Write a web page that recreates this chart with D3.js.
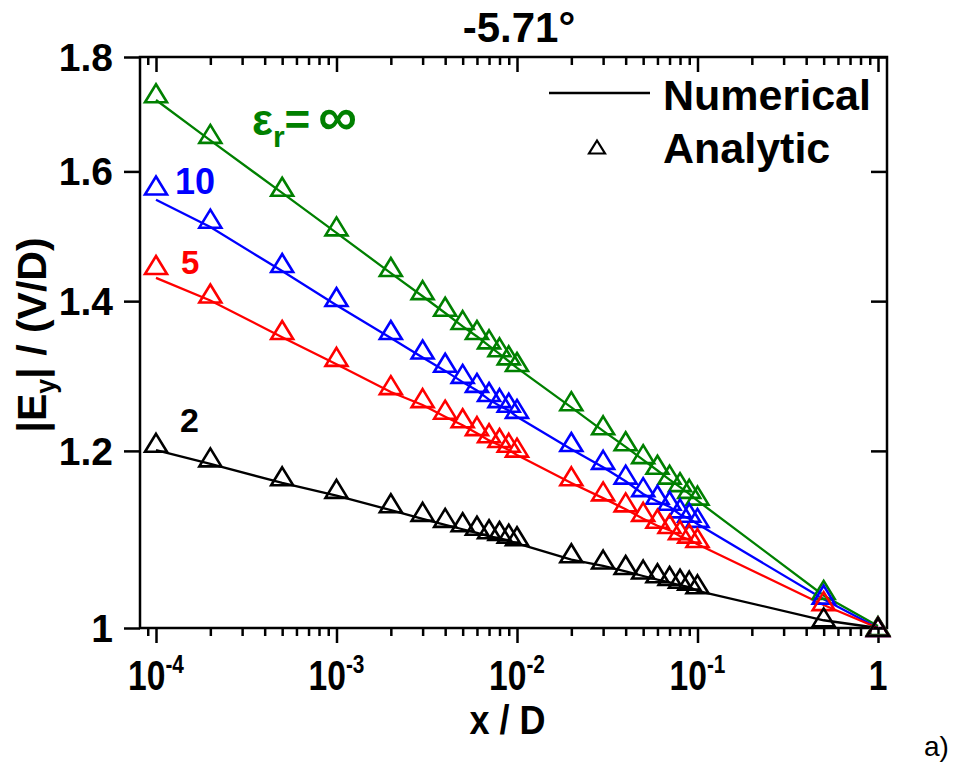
<!DOCTYPE html>
<html>
<head>
<meta charset="utf-8">
<script src="https://cdn.jsdelivr.net/npm/d3@7"></script>
<style>
  body { margin: 0; background: #fff; }
  text { font-family: "Liberation Sans", Arial, sans-serif; }
</style>
</head>
<body>
<div id="chart"></div>
<script>
// x positions shared by all series (x / D)
var xPos = [1e-4, 2e-4, 5e-4, 1e-3, 2e-3, 3e-3, 4e-3, 5e-3, 6e-3, 7e-3, 8e-3, 9e-3, 1e-2,
            2e-2, 3e-2, 4e-2, 5e-2, 6e-2, 7e-2, 8e-2, 9e-2, 1e-1, 0.5, 1];

// analytic values (triangles)
var analyticInf = [1.734, 1.663, 1.575, 1.512, 1.450, 1.416, 1.392, 1.373, 1.359, 1.346, 1.335, 1.324, 1.315,
                   1.263, 1.232, 1.212, 1.196, 1.183, 1.171, 1.162, 1.154, 1.146, 1.040, 1.002];
var analytic10 = [1.577, 1.524, 1.456, 1.406, 1.359, 1.332, 1.314, 1.299, 1.287, 1.275, 1.267, 1.261, 1.253,
                  1.211, 1.189, 1.171, 1.156, 1.147, 1.140, 1.131, 1.126, 1.120, 1.035, 1.001];
var analytic5 = [1.453, 1.411, 1.359, 1.322, 1.284, 1.267, 1.252, 1.241, 1.231, 1.222, 1.216, 1.210, 1.204,
                 1.169, 1.151, 1.138, 1.127, 1.119, 1.113, 1.106, 1.102, 1.097, 1.028, 1.001];
var analytic2 = [1.210, 1.192, 1.169, 1.154, 1.137, 1.127, 1.120, 1.115, 1.111, 1.107, 1.105, 1.102, 1.099,
                 1.080, 1.073, 1.067, 1.062, 1.058, 1.055, 1.052, 1.050, 1.046, 1.011, 1.001];

// numerical values (lines)
var numericalInf = [1.722, 1.652, 1.565, 1.502, 1.441, 1.407, 1.383, 1.364, 1.350, 1.337, 1.326, 1.316, 1.307,
                    1.255, 1.225, 1.205, 1.189, 1.176, 1.165, 1.156, 1.148, 1.140, 1.034, 1.002];
var numerical10 = [1.554, 1.511, 1.444, 1.394, 1.348, 1.321, 1.303, 1.288, 1.277, 1.265, 1.257, 1.251, 1.243,
                   1.202, 1.180, 1.163, 1.148, 1.139, 1.133, 1.124, 1.119, 1.113, 1.030, 1.000];
var numerical5 = [1.434, 1.401, 1.349, 1.312, 1.275, 1.258, 1.243, 1.232, 1.222, 1.213, 1.207, 1.201, 1.195,
                  1.161, 1.143, 1.130, 1.119, 1.111, 1.106, 1.099, 1.095, 1.090, 1.024, 1.000];
var numerical2 = [1.201, 1.184, 1.161, 1.146, 1.129, 1.119, 1.112, 1.107, 1.103, 1.099, 1.097, 1.094, 1.091,
                  1.073, 1.066, 1.060, 1.055, 1.051, 1.048, 1.045, 1.043, 1.039, 1.008, 1.000];

var seriesNames = ["∞", "10", "5", "2"];
var seriesColors = ["#008000", "#0000ff", "#ff0000", "#000000"];

// tick values
var xMajorTicks = [1e-4, 1e-3, 1e-2, 1e-1, 1];
var xTickExp = [-4, -3, -2, -1, null];
var yTicks = [1, 1.2, 1.4, 1.6, 1.8];
var yTickLabels = ["1", "1.2", "1.4", "1.6", "1.8"];

var W = 959, H = 763;
var margin = { top: 57, right: 72, bottom: 135, left: 140 };
var width = W - margin.left - margin.right;
var height = H - margin.top - margin.bottom;

var svg = d3.select("#chart")
    .append("svg")
    .attr("width", W)
    .attr("height", H)
    .append("g")
    .attr("transform", "translate(" + margin.left + "," + margin.top + ")");

// 10^-4 sits 16px right of the frame, 1 sits 9px left of it, 180.5px per decade
var x = d3.scaleLog()
    .domain([Math.pow(10, -4 - 16 / 180.5), Math.pow(10, 9 / 180.5)])
    .range([0, width]);
var y = d3.scaleLog()
    .domain([1, 1.8])
    .range([height, 0]);

// minor ticks on the x axis
var xMinor = [];
for (var e = -5; e <= -1; e++) {
    for (var m = 2; m <= 9; m++) {
        var v = m * Math.pow(10, e);
        if (v > x.domain()[0] && v < x.domain()[1]) xMinor.push(v);
    }
}

function styleAxis(g) {
    g.select(".domain").remove();
    g.selectAll("line").attr("stroke", "#000").attr("stroke-width", 2.5);
    g.selectAll("text").remove();
}

// bottom axis (outward ticks)
svg.append("g").attr("transform", "translate(0," + height + ")")
    .call(d3.axisBottom(x).tickValues(xMajorTicks).tickSize(15)).call(styleAxis);
svg.append("g").attr("transform", "translate(0," + height + ")")
    .call(d3.axisBottom(x).tickValues(xMinor).tickSize(8)).call(styleAxis);
// top axis (inward ticks)
svg.append("g")
    .call(d3.axisBottom(x).tickValues(xMajorTicks).tickSize(15)).call(styleAxis);
svg.append("g")
    .call(d3.axisBottom(x).tickValues(xMinor).tickSize(8)).call(styleAxis);
// left axis (outward), right axis (inward)
svg.append("g")
    .call(d3.axisLeft(y).tickValues(yTicks).tickSize(16)).call(styleAxis);
svg.append("g").attr("transform", "translate(" + width + ",0)")
    .call(d3.axisLeft(y).tickValues(yTicks).tickSize(16)).call(styleAxis);

// frame
svg.append("rect")
    .attr("x", 0).attr("y", 0)
    .attr("width", width).attr("height", height)
    .attr("fill", "none").attr("stroke", "#000").attr("stroke-width", 2.5);

// y tick labels
svg.selectAll(".ylab")
    .data(yTicks)
    .enter().append("text")
    .attr("class", "ylab")
    .attr("x", -27)
    .attr("y", function (d) { return y(d) + 14; })
    .attr("text-anchor", "end")
    .style("font-size", "39px")
    .style("font-weight", "bold")
    .text(function (d, i) { return yTickLabels[i]; });

// x tick labels with superscripts (narrow look of the original)
var xl = svg.selectAll(".xlab")
    .data(xMajorTicks)
    .enter().append("text")
    .attr("class", "xlab")
    .attr("transform", function (d) { return "translate(" + x(d) + "," + (height + 62) + ") scale(0.8,1)"; })
    .attr("text-anchor", "middle")
    .style("font-size", "42px")
    .style("font-weight", "bold");
xl.each(function (d, i) {
    var t = d3.select(this);
    if (xTickExp[i] === null) {
        t.text("1");
    } else {
        t.append("tspan").text("10");
        t.append("tspan").attr("dy", -17).style("font-size", "26px").text(xTickExp[i]);
    }
});

// axis titles
svg.append("text")
    .attr("transform", "translate(" + (width / 2 - 6) + "," + (height + 106) + ") scale(0.9,1)")
    .attr("text-anchor", "middle")
    .style("font-size", "40px")
    .style("font-weight", "bold")
    .text("x / D");

var yt = svg.append("text")
    .attr("transform", "translate(" + (46 - margin.left) + "," + (335 - margin.top) + ") rotate(-90)")
    .attr("text-anchor", "middle")
    .style("font-size", "41px")
    .style("font-weight", "bold");
yt.append("tspan").text("|E");
yt.append("tspan").attr("dy", 9).style("font-size", "27px").text("y");
yt.append("tspan").attr("dy", -9).text("| / (V/D)");

// title
svg.append("text")
    .attr("x", 519 - margin.left)
    .attr("y", 42 - margin.top)
    .attr("text-anchor", "middle")
    .style("font-size", "42px")
    .style("font-weight", "bold")
    .text("-5.71°");

// panel tag
svg.append("text")
    .attr("x", 924 - margin.left)
    .attr("y", 756 - margin.top)
    .style("font-size", "28px")
    .text("a)");

var analytic = [analyticInf, analytic10, analytic5, analytic2];
var numerical = [numericalInf, numerical10, numerical5, numerical2];

// numerical lines
var line = d3.line()
    .x(function (d) { return x(d[0]); })
    .y(function (d) { return y(d[1]); });

svg.selectAll(".numLine")
    .data(numerical)
    .enter().append("path")
    .attr("class", "numLine")
    .attr("fill", "none")
    .attr("stroke", function (d, i) { return seriesColors[i]; })
    .attr("stroke-width", 2.3)
    .attr("d", function (vals) { return line(vals.map(function (v, j) { return [xPos[j], v]; })); });

// analytic triangles
var tri = "M0,-9L11,9L-11,9Z";
analytic.forEach(function (vals, i) {
    svg.append("g")
        .selectAll("path")
        .data(vals.map(function (v, j) { return [xPos[j], v]; }))
        .enter().append("path")
        .attr("d", tri)
        .attr("transform", function (d) { return "translate(" + x(d[0]) + "," + y(d[1]) + ")"; })
        .attr("fill", "none")
        .attr("stroke", seriesColors[i])
        .attr("stroke-width", 2.6)
        .attr("stroke-linejoin", "miter");
});

// series labels
var eps = svg.append("text")
    .attr("x", 252 - margin.left)
    .attr("y", 135 - margin.top)
    .attr("fill", seriesColors[0])
    .style("font-size", "44px")
    .style("font-weight", "bold");
eps.append("tspan").text("ε");
eps.append("tspan").attr("dy", 12).style("font-size", "30px").text("r");
eps.append("tspan").attr("dy", -12).text("=");
eps.append("tspan").attr("dx", 8).style("font-size", "54px").text(seriesNames[0]);

svg.append("text").attr("x", 175 - margin.left).attr("y", 194 - margin.top)
    .attr("fill", seriesColors[1]).style("font-size", "36px").style("font-weight", "bold")
    .text(seriesNames[1]);
svg.append("text").attr("x", 181 - margin.left).attr("y", 274 - margin.top)
    .attr("fill", seriesColors[2]).style("font-size", "33px").style("font-weight", "bold")
    .text(seriesNames[2]);
svg.append("text").attr("x", 180 - margin.left).attr("y", 432 - margin.top)
    .attr("fill", seriesColors[3]).style("font-size", "34px").style("font-weight", "bold")
    .text(seriesNames[3]);

// legend
var legend = svg.append("g")
    .attr("transform", "translate(" + (549 - margin.left) + "," + (93 - margin.top) + ")");
legend.append("line")
    .attr("x1", 0).attr("x2", 101).attr("y1", 0).attr("y2", 0)
    .attr("stroke", "#000").attr("stroke-width", 2.3);
legend.append("path")
    .attr("d", "M0,-6.5L8,6.5L-8,6.5Z")
    .attr("transform", "translate(48,54)")
    .attr("fill", "none").attr("stroke", "#000").attr("stroke-width", 2.2);
legend.append("text").attr("x", 114).attr("y", 17)
    .style("font-size", "43px").style("font-weight", "bold").text("Numerical");
legend.append("text").attr("x", 114).attr("y", 70)
    .style("font-size", "43px").style("font-weight", "bold").text("Analytic");
</script>
</body>
</html>
